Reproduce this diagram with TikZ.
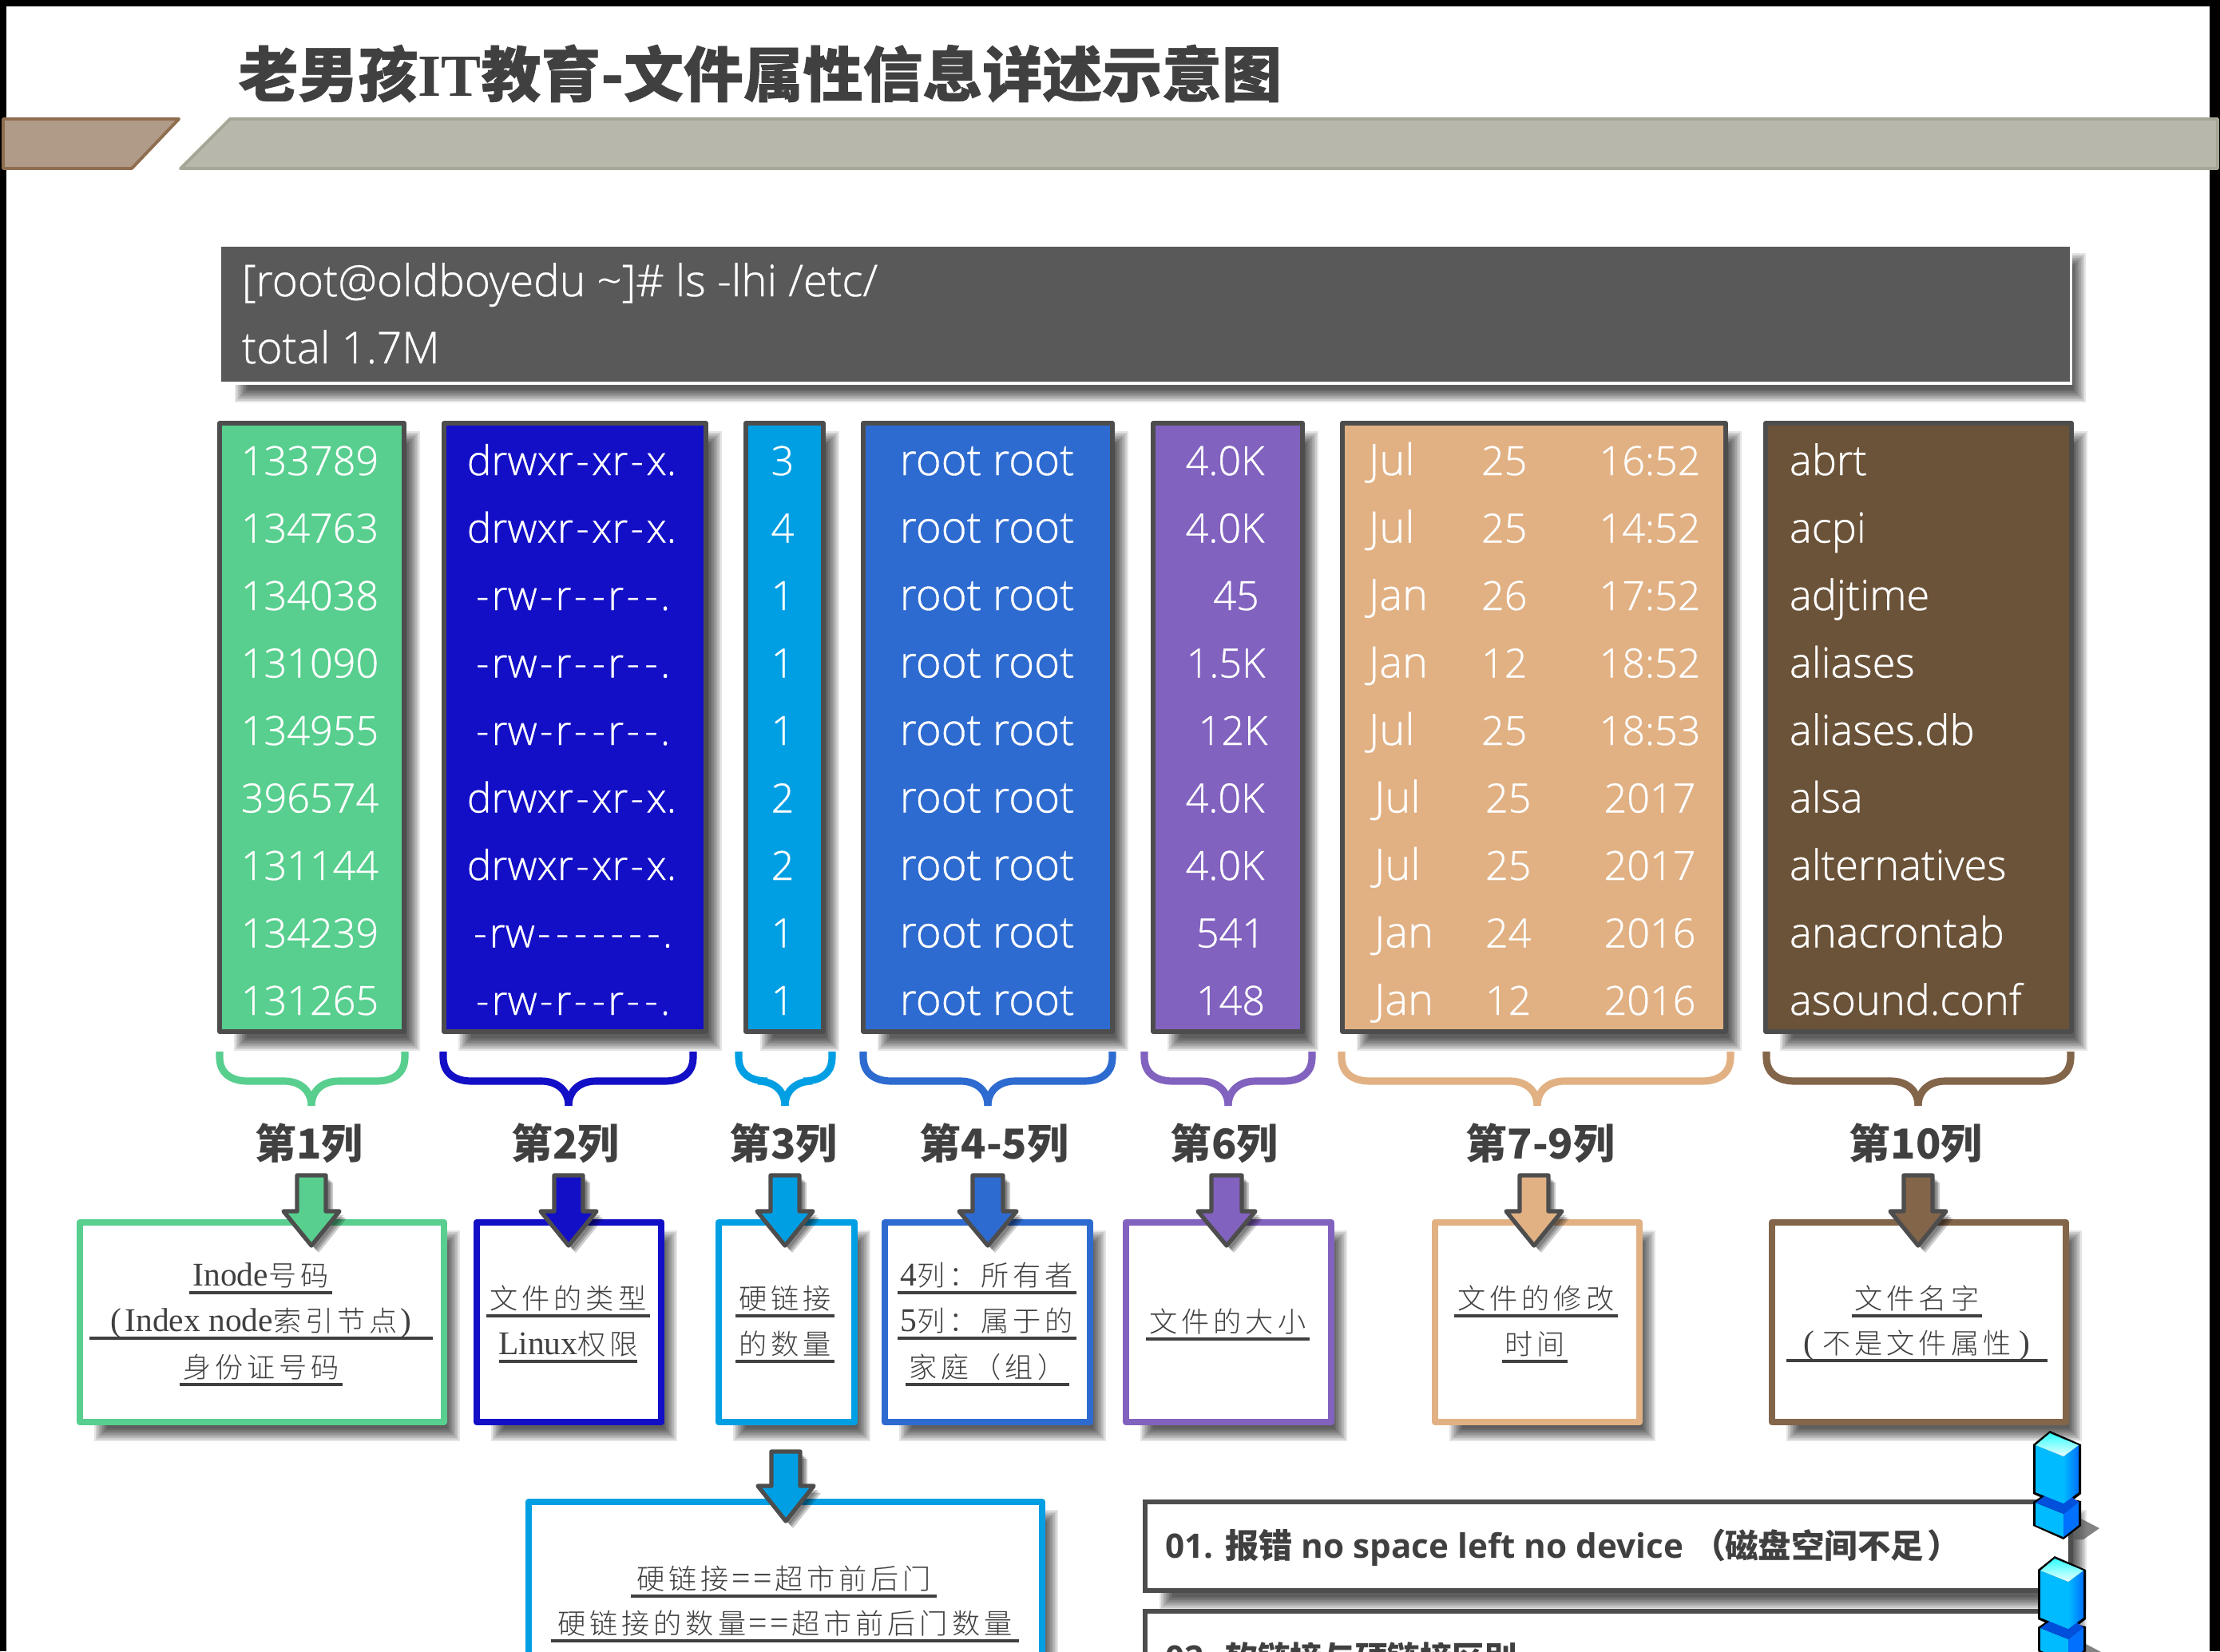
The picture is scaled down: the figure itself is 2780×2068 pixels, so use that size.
\documentclass[tikz,border=0pt]{standalone}
\usepackage{fontspec}
\newfontfamily\cjk{Noto Sans CJK SC}
\newfontfamily\cjkt[BoldFeatures={FakeBold=0.8}]{Noto Sans CJK SC}
\newfontfamily\cjkl[LetterSpace=14]{Noto Sans CJK SC Light}
\newfontfamily\ltf[FakeBold=0.7]{Open Sans Light}
\newfontfamily\obf{Open Sans}
\newfontfamily\serf{Liberation Serif}
\definecolor{ink}{HTML}{404040}
\definecolor{edge}{HTML}{4D4D4D}
\definecolor{cA}{HTML}{58CF8E}
\definecolor{cB}{HTML}{130FC6}
\definecolor{cC}{HTML}{009FE3}
\definecolor{cD}{HTML}{2E6BD0}
\definecolor{cE}{HTML}{8262BF}
\definecolor{cF}{HTML}{E1B184}
\definecolor{cG}{HTML}{6B5339}
\definecolor{cH}{HTML}{83654A}
\definecolor{banA}{HTML}{B09A88}
\definecolor{banAe}{HTML}{8F6E50}
\definecolor{banB}{HTML}{B7B7AC}
\definecolor{banBe}{HTML}{A5A696}
\definecolor{hdr}{HTML}{595959}
\definecolor{exL}{HTML}{00BBFF}
\definecolor{exR}{HTML}{0A8CFF}
\definecolor{exRl}{HTML}{0070FF}
\definecolor{exD}{HTML}{0050DC}
\tikzset{
  cell/.style={text=white,inner sep=0pt,outer sep=0pt,anchor=base,font=\ltf\fontsize{14.3}{17}\selectfont},
  wcell/.style={cell,font=\ltf\fontsize{15.3}{17}\selectfont},
  lcell/.style={cell,anchor=base west,font=\ltf\fontsize{14.9}{17}\selectfont},
  hcell/.style={cell,anchor=base west,font=\ltf\fontsize{15.6}{17}\selectfont},
  colpanel/.style={draw=edge,line width=1.5pt,fill=#1,inner sep=0pt,outer sep=0pt,line join=round},
  infopanel/.style={draw=#1,fill=white,line width=2.5pt,inner sep=0pt,outer sep=0pt,line join=round},
  notepanel/.style={draw=edge,fill=white,line width=1.5pt,inner sep=0pt,outer sep=0pt},
  headlabel/.style={text=ink,inner sep=0pt,font=\cjk\bfseries\fontsize{14.7}{17}\selectfont},
  boxtxt/.style={text=ink,inner sep=0pt,font=\cjkl\fontsize{10}{12}\selectfont},
  ulrule/.style={draw=ink,line width=1pt},
  bracket/.style={draw=#1,line width=2.6pt},
  blockarrow/.style={draw=edge,fill=#1,line width=1.5pt,line join=round}
}
\newcommand\hy{\kern.9pt-\kern.9pt}
\newcommand\softshadow[4]{%
  \foreach \k in {8,6,...,-8}{%
    \fill[black,opacity=.1] ({#1+26-\k},{#2+18-\k}) rectangle ({#3+12+\k},{#4+16+\k});
  }}
% name, style, x1,y1,x2,y2 (stroke centre)
\newcommand\panel[6]{%
  \softshadow{#3}{#4}{#5}{#6}%
  \pgfmathsetmacro\pw{(#5-#3)*0.01}\pgfmathsetmacro\ph{(#6-#4)*0.01}%
  \node[#2,minimum width=\pw cm,minimum height=\ph cm,anchor=north west] (#1) at (#3,#4) {};}
\newcommand\colbrace[4]{% x1, tip, x2, colour
  \draw[bracket=#4] (#1,1317) -- (#1,1324) .. controls (#1,1344) and ({#1+14},1354) .. ({#1+36},1354)
    -- ({#2-34},1354) .. controls ({#2-14},1354) and (#2,1366) .. (#2,1385);
  \draw[bracket=#4] (#2,1385) .. controls (#2,1366) and ({#2+14},1354) .. ({#2+34},1354)
    -- ({#3-36},1354) .. controls ({#3-14},1354) and (#3,1344) .. (#3,1324) -- (#3,1317);}
% cx, top, neck, tip, half shaft, half head, colour
\newcommand\blockdown[7]{%
  \foreach \s/\o in {3/.2,5/.2,7/.2}{%
    \fill[black,opacity=\o] ({#1-#5+\s+2},{#2+\s+2}) -- ({#1+#5+\s+2},{#2+\s+2}) -- ({#1+#5+\s+2},{#3+\s+2}) -- ({#1+#6+\s+2},{#3+\s+2}) -- ({#1+\s+2},{#4+\s+2}) -- ({#1-#6+\s+2},{#3+\s+2}) -- ({#1-#5+\s+2},{#3+\s+2}) -- cycle;}
  \draw[blockarrow=#7] ({#1-#5},#2) -- ({#1+#5},#2) -- ({#1+#5},#3) -- ({#1+#6},#3) -- (#1,#4) -- ({#1-#6},#3) -- ({#1-#5},#3) -- cycle;}
% name,x1,x2,y,text
\newcommand\ulline[5]{%
  \node[boxtxt,anchor=base] (#1) at ({(#2+#3)/2},{#4-9}) {#5};
  \draw[ulrule] (#2,#4) -- (#3,#4);}
\newcommand\ser[1]{{\serf\fontsize{11.8}{12}\selectfont #1}}
\newcommand\excl[2]{%
  \begin{scope}[shift={(#1,#2)}]
  \fill[black!65,opacity=.75] (60,110) -- (83,122) -- (63,136) -- (48,136) -- cycle;
  \fill[black] (21,0) -- (60,17) -- (60,79) -- (51,86) -- (60,88) -- (60,119) -- (38,136) -- (0,119) -- (0,89) -- (9,83) -- (0,79) -- (0,17) -- cycle;
  \fill[exL] (3,90) -- (38,104) -- (38,133) -- (3,118) -- cycle;
  \fill[exRl] (38,104) -- (57,89) -- (57,118) -- (38,133) -- cycle;
  \fill[exD] (3,90) -- (38,104) -- (57,89) -- (38,76) -- (14,82) -- cycle;
  \fill[exL] (3,18) -- (38,32) -- (38,91) -- (3,77) -- cycle;
  \shade[left color=exL,right color=exRl] (38,32) -- (57,18) -- (57,77) -- (38,91) -- cycle;
  \shade[top color=cyan!80!white,bottom color=cyan!8!white] (21,3) -- (57,18) -- (38,32) -- (3,18) -- cycle;
  \end{scope}}
\begin{document}
\begin{tikzpicture}[x=0.01cm,y=-0.01cm]
\useasboundingbox (0,0) rectangle (2780,2068);
\clip (0,0) rectangle (2780,2068);
\fill[white] (0,0) rectangle (2780,2068);
\fill[black] (0,0) rectangle (2780,8);
\fill[black] (0,0) rectangle (8,2068);
\fill[black] (2767,0) rectangle (2780,2068);
% banner
\draw[draw=banAe,fill=banA,line width=1.1pt,line join=round] (4,149) -- (224,149) -- (165,211) -- (4,211) -- cycle;
\draw[draw=banBe,fill=banB,line width=1.1pt,line join=round] (288,149) -- (2777,149) -- (2777,211) -- (226,211) -- cycle;
\node[anchor=west,inner sep=0pt,text=ink,font=\cjkt\bfseries\fontsize{21.3}{26}\selectfont] (title) at (298,92) {老男孩{\serf IT}教育-文件属性信息详述示意图};
% header
\softshadow{276}{307}{2592}{480}
\node[fill=hdr,draw=white,line width=1pt,minimum width=23.17cm,minimum height=1.73cm,anchor=north west,inner sep=0pt,outer sep=0pt] (header) at (275,307) {};
\node[hcell] (cmd) at (303,371) {[root@oldboyedu \textasciitilde]\# ls -lhi /etc/};
\node[hcell] (tot) at (303,455) {total 1.7M};
% columns
\panel{colA}{colpanel=cA}{275}{530}{506}{1292}
\panel{colB}{colpanel=cB}{556}{530}{884}{1292}
\panel{colC}{colpanel=cC}{934}{530}{1031}{1292}
\panel{colD}{colpanel=cD}{1081}{530}{1393}{1292}
\panel{colE}{colpanel=cE}{1444}{530}{1631}{1292}
\panel{colF}{colpanel=cF}{1681}{530}{2161}{1292}
\panel{colG}{colpanel=cG}{2211}{530}{2594}{1292}
\foreach \t [count=\i, evaluate=\i as \y using 595+84.5*(\i-1)] in {133789,134763,134038,131090,134955,396574,131144,134239,131265}
  \node[cell] (a\i) at (388,\y) {\t};
\foreach \t [count=\i, evaluate=\i as \y using 595+84.5*(\i-1)] in {drwxr\hy xr\hy x.,drwxr\hy xr\hy x.,\hy rw\hy r\hy\hy r\hy\hy.,\hy rw\hy r\hy\hy r\hy\hy.,\hy rw\hy r\hy\hy r\hy\hy.,drwxr\hy xr\hy x.,drwxr\hy xr\hy x.,\hy rw\hy\hy\hy\hy\hy\hy\hy.,\hy rw\hy r\hy\hy r\hy\hy.}
  \node[cell,font=\ltf\fontsize{14.6}{17}\selectfont] (b\i) at (716,\y) {\t};
\foreach \t [count=\i, evaluate=\i as \y using 595+84.5*(\i-1)] in {3,4,1,1,1,2,2,1,1}
  \node[cell] (c\i) at (980,\y) {\t};
\foreach \i [evaluate=\i as \y using 595+84.5*(\i-1)] in {1,...,9}
  \node[wcell,font=\ltf\fontsize{15.5}{17}\selectfont] (d\i) at (1236,\y) {root root};
\foreach \t/\c [count=\i, evaluate=\i as \y using 595+84.5*(\i-1)] in {4.0K/1534,4.0K/1534,45/1548,1.5K/1535,12K/1544,4.0K/1534,4.0K/1534,541/1541,148/1541}
  \node[cell] (e\i) at (\c,\y) {\t};
\foreach \m/\d/\h/\xa/\xb/\xc [count=\i, evaluate=\i as \y using 595+84.5*(\i-1)] in {Jul/25/16:52/1714/1855/2066,Jul/25/14:52/1714/1855/2066,Jan/26/17:52/1714/1855/2066,Jan/12/18:52/1714/1855/2066,Jul/25/18:53/1714/1855/2066,Jul/25/2017/1721/1860/2066,Jul/25/2017/1721/1860/2066,Jan/24/2016/1721/1860/2066,Jan/12/2016/1721/1860/2066}{
  \node[lcell,font=\ltf\fontsize{15.4}{17}\selectfont] (fm\i) at (\xa,\y) {\m};
  \node[lcell,font=\ltf\fontsize{14.3}{17}\selectfont] (fd\i) at (\xb,\y) {\d};
  \node[cell] (ft\i) at (\xc,\y) {\h};
}
\foreach \t [count=\i, evaluate=\i as \y using 595+84.5*(\i-1)] in {abrt,acpi,adjtime,aliases,aliases.db,alsa,alternatives,anacrontab,asound.conf}
  \node[lcell] (g\i) at (2241,\y) {\t};
% braces
\colbrace{275}{390}{507}{cA}
\colbrace{555}{712}{868}{cB}
\colbrace{925}{983}{1042}{cC}
\colbrace{1081}{1237}{1393}{cD}
\colbrace{1433}{1538}{1643}{cE}
\colbrace{1680}{1925}{2167}{cF}
\colbrace{2212}{2402}{2593}{cH}
% column labels
\node[headlabel] (l1) at (387,1432) {第1列};
\node[headlabel] (l2) at (708,1432) {第2列};
\node[headlabel] (l3) at (981,1432) {第3列};
\node[headlabel] (l4) at (1245,1432) {第4-5列};
\node[headlabel] (l5) at (1533,1432) {第6列};
\node[headlabel] (l6) at (1929,1432) {第7-9列};
\node[headlabel] (l7) at (2399,1432) {第10列};
% info boxes
\panel{bA}{infopanel=cA}{100}{1531}{556}{1781}
\panel{bB}{infopanel=cB}{597}{1531}{828}{1781}
\panel{bC}{infopanel=cC}{900}{1531}{1070}{1781}
\panel{bD}{infopanel=cD}{1108}{1531}{1365}{1781}
\panel{bE}{infopanel=cE}{1410}{1531}{1667}{1781}
\panel{bF}{infopanel=cF}{1797}{1531}{2053}{1781}
\panel{bG}{infopanel=cH}{2219}{1531}{2587}{1781}
\panel{bH}{infopanel=cC}{662}{1881}{1305}{2200}
\ulline{tA1}{237}{416}{1619}{\ser{Inode}号码}
\ulline{tA2}{112}{542}{1676}{\ser{(\kern1.2pt Index node}索引节点\ser{\kern1.2pt)}}
\ulline{tA3}{225}{429}{1734}{身份证号码}
\ulline{tB1}{609}{814}{1648}{文件的类型}
\ulline{tB2}{625}{798}{1705}{\ser{Linux}权限}
\ulline{tC1}{921}{1045}{1648}{硬链接}
\ulline{tC2}{921}{1045}{1705}{的数量}
\ulline{tD1}{1124}{1348}{1619}{\ser{4}列：所有者}
\ulline{tD2}{1124}{1348}{1676}{\ser{5}列：属于的}
\ulline{tD3}{1134}{1339}{1734}{家庭（组）}
\ulline{tE1}{1435}{1640}{1677}{文件的大小}
\ulline{tF1}{1821}{2026}{1648}{文件的修改}
\ulline{tF2}{1881}{1963}{1705}{时间}
\ulline{tG1}{2319}{2482}{1648}{文件名字}
\ulline{tG2}{2237}{2564}{1704}{\ser{(\kern3pt}不是文件属性\ser{\kern3pt)}}
\ulline{tH1}{790}{1173}{1999}{硬链接\ser{\kern1pt=\kern1pt=\kern1pt}超市前后门}
\ulline{tH2}{690}{1276}{2055}{硬链接的数量\ser{\kern1pt=\kern1pt=\kern1pt}超市前后门数量}
% block arrows
\blockdown{390}{1472}{1517}{1560}{18}{35}{cA}
\blockdown{712}{1472}{1517}{1560}{18}{35}{cB}
\blockdown{983}{1472}{1517}{1560}{18}{35}{cC}
\blockdown{1237}{1472}{1517}{1560}{19}{36}{cD}
\blockdown{1536}{1472}{1517}{1560}{19}{36}{cE}
\blockdown{1921}{1472}{1517}{1560}{18}{35}{cF}
\blockdown{2402}{1472}{1517}{1560}{18}{35}{cH}
\blockdown{984}{1818}{1861}{1905}{18}{35}{cC}
% notes
\panel{nA}{notepanel}{1434}{1881}{2593}{1992}
\panel{nB}{notepanel}{1434}{2018}{2593}{2200}
\node[anchor=west,inner sep=0pt,text=ink,font=\obf\bfseries\fontsize{12}{14}\selectfont] (nAt) at (1459,1938) {01. {\cjk 报错} no space left no device {\cjk （\kern-.3pt\fontsize{11.8}{14}\selectfont 磁盘空间不足\kern-1.5pt\ ）}};
\node[anchor=west,inner sep=0pt,text=ink,font=\obf\bfseries\fontsize{12}{14}\selectfont] (nBt) at (1459,2076) {02. {\cjk\fontsize{11.55}{14}\selectfont 软链接与硬链接区别}};
\excl{2546}{1792}
\excl{2552}{1949}
\end{tikzpicture}
\end{document}
